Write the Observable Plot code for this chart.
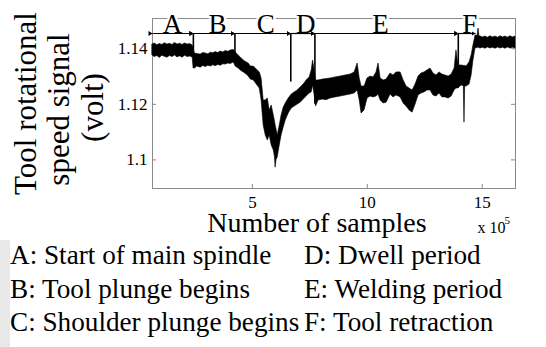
<!DOCTYPE html>
<html>
<head>
<meta charset="utf-8">
<script src="https://cdn.jsdelivr.net/npm/d3@7"></script>
<script src="https://cdn.jsdelivr.net/npm/@observablehq/plot@0.6"></script>
<style>
  body { margin: 0; background: #fff; }
  #wrap { position: relative; width: 546px; height: 347px; overflow: hidden;
          font-family: "Liberation Serif", "Times New Roman", serif; color: #000; }
  #chart { position: absolute; left: 0; top: 0; }
  .key { position: absolute; top: 239px; font-size: 27.2px; line-height: 33.5px; white-space: nowrap; }
  .band { position: absolute; left: 0; width: 10px; background: #e9e9e9; }
</style>
</head>
<body>
<div id="wrap">
  <div class="band" style="top:58px;height:165px"></div>
  <div class="band" style="top:240px;height:107px"></div>
  <div id="chart"></div>
  <div class="key" id="keyLeft" style="left:10px"></div>
  <div class="key" id="keyRight" style="left:304px"></div>
</div>
<script>
// Spindle speed signal (volt) against sample number (x 10^5):
// upper and lower edge of the noisy trace at each sample position.
const sampleX = [
  0.65, 0.75, 0.86, 0.97, 1.08, 1.19, 1.30, 1.41, 1.52, 1.63,
  1.74, 1.85, 1.96, 2.07, 2.18, 2.29, 2.40, 2.44, 2.50, 2.60,
  2.75, 2.86, 2.97, 3.08, 3.19, 3.30, 3.40, 3.51, 3.62, 3.73,
  3.84, 3.95, 4.06, 4.19, 4.27, 4.40, 4.49, 4.62, 4.75, 4.84,
  4.93, 5.06, 5.19, 5.32, 5.40, 5.49, 5.58, 5.67, 5.75, 5.84,
  5.93, 5.98, 6.01, 6.05, 6.10, 6.19, 6.27, 6.36, 6.45, 6.58,
  6.71, 6.84, 6.97, 7.10, 7.23, 7.36, 7.49, 7.58, 7.64, 7.71,
  7.77, 7.88, 8.06, 8.23, 8.40, 8.62, 8.84, 9.06, 9.27, 9.45,
  9.58, 9.67, 9.75, 9.88, 10.01, 10.14, 10.27, 10.40, 10.49, 10.58,
  10.71, 10.84, 11.01, 11.14, 11.27, 11.45, 11.58, 11.71, 11.84, 11.97,
  12.10, 12.23, 12.36, 12.49, 12.62, 12.75, 12.88, 13.01, 13.14, 13.27,
  13.40, 13.54, 13.67, 13.80, 13.88, 13.97, 14.10, 14.20, 14.23, 14.26,
  14.32, 14.45, 14.54, 14.62, 14.71, 14.80, 14.84, 14.88, 14.93, 15.04,
  15.14, 15.25, 15.36, 15.47, 15.58, 15.69, 15.80, 15.91, 16.01, 16.12,
  16.23, 16.34, 16.45
];
const signalHigh = [
  1.1415, 1.1419, 1.1413, 1.1417, 1.1414, 1.1420, 1.1415, 1.1418, 1.1414, 1.1421,
  1.1415, 1.1418, 1.1414, 1.1419, 1.1415, 1.1417, 1.1412, 1.1400, 1.1383, 1.1381,
  1.1379, 1.1385, 1.1383, 1.1380, 1.1386, 1.1384, 1.1388, 1.1385, 1.1390, 1.1387,
  1.1392, 1.1389, 1.1394, 1.1396, 1.1387, 1.1376, 1.1369, 1.1358, 1.1351, 1.1347,
  1.1336, 1.1336, 1.1325, 1.1315, 1.1293, 1.1214, 1.1214, 1.1221, 1.1178, 1.1196,
  1.1160, 1.1140, 1.1124, 1.1110, 1.1088, 1.1124, 1.1160, 1.1188, 1.1203, 1.1221,
  1.1235, 1.1243, 1.1250, 1.1261, 1.1271, 1.1286, 1.1297, 1.1322, 1.1358, 1.1322,
  1.1286, 1.1286, 1.1289, 1.1291, 1.1293, 1.1297, 1.1300, 1.1304, 1.1307, 1.1315,
  1.1347, 1.1293, 1.1264, 1.1264, 1.1293, 1.1300, 1.1297, 1.1315, 1.1347, 1.1293,
  1.1286, 1.1289, 1.1311, 1.1304, 1.1315, 1.1315, 1.1286, 1.1264, 1.1257, 1.1250,
  1.1271, 1.1300, 1.1311, 1.1315, 1.1322, 1.1329, 1.1311, 1.1304, 1.1315, 1.1307,
  1.1304, 1.1300, 1.1307, 1.1329, 1.1394, 1.1340, 1.1340, 1.1338, 1.1340, 1.1338,
  1.1336, 1.1351, 1.1376, 1.1412, 1.1448, 1.1446, 1.1473, 1.1445, 1.1444, 1.1441,
  1.1444, 1.1440, 1.1445, 1.1441, 1.1444, 1.1440, 1.1445, 1.1441, 1.1444, 1.1440,
  1.1445, 1.1441, 1.1444
];
const signalLow = [
  1.1376, 1.1370, 1.1374, 1.1367, 1.1375, 1.1371, 1.1368, 1.1374, 1.1370, 1.1376,
  1.1369, 1.1373, 1.1368, 1.1375, 1.1370, 1.1372, 1.1369, 1.1329, 1.1329, 1.1336,
  1.1332, 1.1338, 1.1334, 1.1339, 1.1336, 1.1341, 1.1337, 1.1342, 1.1339, 1.1344,
  1.1343, 1.1347, 1.1345, 1.1351, 1.1336, 1.1329, 1.1322, 1.1315, 1.1307, 1.1300,
  1.1289, 1.1286, 1.1271, 1.1257, 1.1214, 1.1124, 1.1088, 1.1070, 1.1088, 1.1052,
  1.1034, 1.1010, 1.0972, 1.1000, 1.1008, 1.1052, 1.1088, 1.1116, 1.1142, 1.1167,
  1.1185, 1.1192, 1.1199, 1.1206, 1.1217, 1.1228, 1.1239, 1.1243, 1.1268, 1.1232,
  1.1192, 1.1214, 1.1217, 1.1215, 1.1221, 1.1225, 1.1228, 1.1232, 1.1235, 1.1239,
  1.1250, 1.1214, 1.1167, 1.1178, 1.1221, 1.1228, 1.1225, 1.1228, 1.1235, 1.1214,
  1.1203, 1.1206, 1.1235, 1.1225, 1.1232, 1.1225, 1.1203, 1.1192, 1.1178, 1.1170,
  1.1199, 1.1232, 1.1239, 1.1243, 1.1250, 1.1250, 1.1232, 1.1228, 1.1239, 1.1225,
  1.1225, 1.1221, 1.1228, 1.1250, 1.1257, 1.1257, 1.1268, 1.1265, 1.1134, 1.1264,
  1.1264, 1.1271, 1.1304, 1.1358, 1.1401, 1.1403, 1.1405, 1.1402, 1.1401, 1.1404,
  1.1400, 1.1405, 1.1401, 1.1404, 1.1400, 1.1405, 1.1401, 1.1404, 1.1400, 1.1405,
  1.1401, 1.1404, 1.1401
];

// Process phases of the weld and where they start and end (x 10^5 samples)
const phaseLetters = ["A", "B", "C", "D", "E", "F"];
const phaseNames = [
  "Start of main spindle", "Tool plunge begins", "Shoulder plunge begins",
  "Dwell period", "Welding period", "Tool retraction"
];
const phaseEdges = [0.652, 2.43, 4.24, 6.67, 7.72, 13.96, 14.71];
const phaseLabelX = [1.52, 3.48, 5.58, 7.32, 10.58, 14.46];
const arrowLevel = 1.1455;                                // signal level of the phase arrows
const boundaryFoot = [1.1387, 1.1360, 1.1280, 1.1200, 1.1300]; // lower end of each phase divider

const xTicks = [5, 10, 15];
const yTicks = [1.1, 1.12, 1.14];

const signal = sampleX.map((x, i) => ({x, hi: signalHigh[i], lo: signalLow[i]}));
const phases = phaseLetters.map((letter, i) => ({
  letter, name: phaseNames[i], start: phaseEdges[i], end: phaseEdges[i + 1],
  labelX: phaseLabelX[i], level: arrowLevel
}));
const boundaries = phaseEdges.slice(1, -1).map((x, i) => ({x, top: arrowLevel, foot: boundaryFoot[i]}));

const W = 546, H = 240, mL = 152, mR = 31, mT = 18, mB = 52;
const innerW = W - mL - mR, innerH = H - mT - mB;
const frameGrey = "#8a8a8a";

const chart = Plot.plot({
  width: W, height: H,
  marginLeft: mL, marginRight: mR, marginTop: mT, marginBottom: mB,
  style: {
    fontFamily: '"Liberation Serif", "Times New Roman", serif',
    fontSize: "17px", color: "black", background: "white", overflow: "visible"
  },
  x: {domain: [0.652, 16.45], ticks: xTicks, tickSize: 0, tickPadding: 7, tickFormat: d => String(d), label: null},
  y: {domain: [1.0897, 1.1509], ticks: yTicks, tickSize: 0, tickPadding: 5, tickFormat: d => String(d), label: null},
  marks: [
    Plot.frame({stroke: frameGrey}),
    // inward tick marks on the left, right and bottom edges
    Plot.tickY(yTicks, {y: d => d, insetRight: innerW - 4, stroke: frameGrey}),
    Plot.tickY(yTicks, {y: d => d, insetLeft: innerW - 4, stroke: frameGrey}),
    Plot.tickX(xTicks, {x: d => d, insetTop: innerH - 4, stroke: frameGrey}),
    // phase letters sitting on the top edge
    Plot.text(phases, {
      x: "labelX", text: "letter", frameAnchor: "top", dy: 14, lineAnchor: "bottom",
      fontSize: 27, fill: "black", stroke: "white", strokeWidth: 5
    }),
    // the signal trace
    Plot.areaY(signal, {x: "x", y1: "lo", y2: "hi", fill: "black", stroke: "black", strokeWidth: 0.6}),
    // phase dividers and double-headed span arrows
    Plot.ruleX(boundaries, {x: "x", y1: "top", y2: "foot", stroke: "black", strokeWidth: 1.6}),
    Plot.link(phases, {
      x1: "start", x2: "end", y1: "level", y2: "level",
      stroke: "black", strokeWidth: 1.2, markerStart: "arrow", markerEnd: "arrow"
    }),
    // axis titles
    Plot.text(["Tool rotational"], {text: d => d, frameAnchor: "left", textAnchor: "middle", rotate: -90, dx: -117, dy: 0, lineAnchor: "bottom", fontSize: 31}),
    Plot.text(["speed signal"], {text: d => d, frameAnchor: "left", textAnchor: "middle", rotate: -90, dx: -83.5, dy: 6, lineAnchor: "bottom", fontSize: 31}),
    Plot.text(["(volt)"], {text: d => d, frameAnchor: "left", textAnchor: "middle", rotate: -90, dx: -50, dy: 4, lineAnchor: "bottom", fontSize: 31}),
    Plot.text(["Number of samples"], {text: d => d, frameAnchor: "bottom", textAnchor: "middle", dx: -17, dy: 43, lineAnchor: "bottom", fontSize: 28}),
    Plot.text(["x 10"], {text: d => d, frameAnchor: "bottom-right", textAnchor: "start", dx: -38, dy: 44, lineAnchor: "bottom", fontSize: 16}),
    Plot.text(["5"], {text: d => d, frameAnchor: "bottom-right", textAnchor: "start", dx: -11, dy: 35, lineAnchor: "bottom", fontSize: 11})
  ]
});

// solid arrowheads on the phase spans
chart.querySelectorAll("marker").forEach(m => {
  m.setAttribute("fill", "black");
  m.setAttribute("stroke", "none");
  m.querySelectorAll("path").forEach(p => p.setAttribute("d", "M-5,-3L0,0L-5,3Z"));
});

document.getElementById("chart").appendChild(chart);

// phase key, two columns of three
const keyLine = i => `${phaseLetters[i]}: ${phaseNames[i]}`;
document.getElementById("keyLeft").innerHTML = [0, 1, 2].map(keyLine).join("<br>");
document.getElementById("keyRight").innerHTML = [3, 4, 5].map(keyLine).join("<br>");
</script>
</body>
</html>
